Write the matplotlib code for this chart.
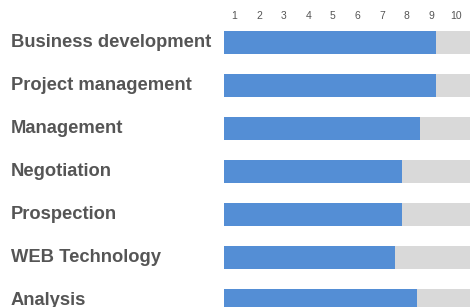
import matplotlib.pyplot as plt
from matplotlib import transforms

skills = ["Business development", "Project management", "Management",
          "Negotiation", "Prospection", "WEB Technology", "Analysis"]
levels = [8.6, 8.6, 7.95, 7.25, 7.25, 6.95, 7.85]
max_level = 10
tick_labels = [1, 2, 3, 4, 5, 6, 7, 8, 9, 10]

plt.rcParams['font.family'] = ['Liberation Sans', 'DejaVu Sans']

W, H = 470, 307
fig = plt.figure(figsize=(W / 100, H / 100), dpi=100)
ax = fig.add_axes([224 / W, 0, 1 - 224 / W, (H - 21) / H])

rows = list(range(len(skills)))
ax.barh(rows, [max_level] * len(skills), height=0.54, color="#d9d9d9")
ax.barh(rows, levels, height=0.54, color="#548ed5")

ax.set_xlim(0, max_level)
ax.set_ylim(6.15, -0.5)
ax.set_yticks([])
ax.xaxis.tick_top()
ax.set_xticks([t - 0.58 for t in tick_labels])
ax.set_xticklabels([str(t) for t in tick_labels], fontsize=7.5, color="#555555")
ax.tick_params(axis="x", length=0, pad=0)
for s in ax.spines.values():
    s.set_visible(False)

trans = transforms.blended_transform_factory(fig.transFigure, ax.transData)
for r, name in zip(rows, skills):
    ax.text(11 / W, r, name, transform=trans, ha="left", va="center",
            fontsize=13.2, fontweight="bold", color="#555555")

fig.savefig("out.png", dpi=100)
